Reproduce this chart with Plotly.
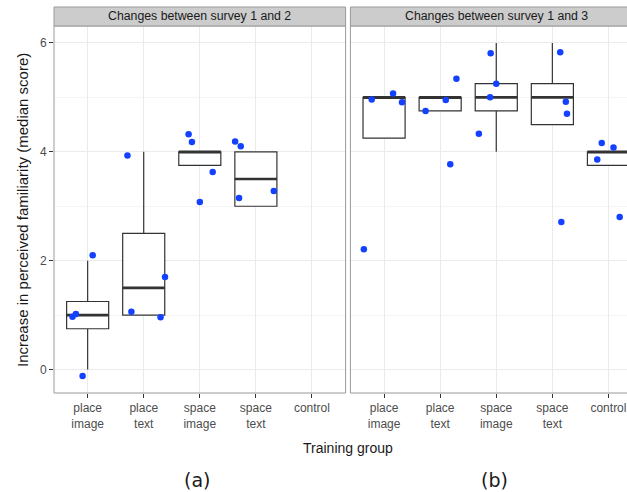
import plotly.graph_objects as go

# ---------------- data ----------------
categories = ["place<br>image", "place<br>text", "space<br>image", "space<br>text", "control"]
panel_titles = ["Changes between survey 1 and 2", "Changes between survey 1 and 3"]

# box statistics per panel (only groups that have data)
p1_box_idx = [0, 1, 2, 3]
p1_q1 = [0.75, 1.0, 3.75, 3.0]
p1_med = [1.0, 1.5, 4.0, 3.5]
p1_q3 = [1.25, 2.5, 4.0, 4.0]
p1_lo = [0.0, 1.0, 3.75, 3.0]
p1_hi = [2.0, 4.0, 4.0, 4.0]

p2_box_idx = [0, 1, 2, 3, 4]
p2_q1 = [4.25, 4.75, 4.75, 4.5, 3.75]
p2_med = [5.0, 5.0, 5.0, 5.0, 4.0]
p2_q3 = [5.0, 5.0, 5.25, 5.25, 4.0]
p2_lo = [4.25, 4.75, 4.0, 4.5, 3.75]
p2_hi = [5.0, 5.0, 6.0, 6.0, 4.0]

# jittered points: group index, x jitter, y value
p1_pt_grp = [0, 0, 0, 0, 1, 1, 1, 1, 2, 2, 2, 2, 3, 3, 3, 3]
p1_pt_jit = [-0.27, -0.21, 0.09, -0.09, -0.22, 0.30, 0.38, -0.29,
             -0.20, -0.14, 0.23, 0.00, -0.37, -0.27, 0.32, -0.30]
p1_pt_y = [0.97, 1.02, 2.10, -0.12, 1.06, 0.96, 1.70, 3.93,
           4.32, 4.18, 3.63, 3.08, 4.19, 4.10, 3.28, 3.15]

p2_pt_grp = [0, 0, 0, 0, 1, 1, 1, 1, 2, 2, 2, 2, 3, 3, 3, 3, 4, 4, 4, 4]
p2_pt_jit = [-0.22, 0.16, 0.32, -0.36, -0.26, 0.10, 0.29, 0.18,
             -0.10, 0.00, -0.11, -0.31, 0.14, 0.24, 0.26, 0.16,
             -0.12, 0.09, -0.20, 0.20]
p2_pt_y = [4.96, 5.07, 4.91, 2.21, 4.75, 4.95, 5.34, 3.77,
           5.81, 5.25, 5.00, 4.33, 5.83, 4.92, 4.70, 2.71,
           4.16, 4.08, 3.86, 2.80]

# ---------------- styling ----------------
W, H = 627, 492
ML, MR, MT, MB = 54, 0, 26, 99
plot_w = W - ML - MR
plot_h = H - MT - MB
unit_px = 56.1
p1_right = 345.6
p2_left = 350.4
d1 = [0, (p1_right - ML) / plot_w]
d2 = [(p2_left - ML) / plot_w, 1]
x1_range = [-0.6, 4.6]
x2_range = [-0.6, -0.6 + (W - p2_left) / unit_px]
y_range = [-0.43, 6.31]

BOX_W = 0.75
LINE_C = "#333333"
DOT_C = "#1440FF"
FONT = "Liberation Sans, Arial, sans-serif"

fig = go.Figure()

def add_panel(xa, ya, idx, q1, med, q3, lo, hi, grp, jit, yv):
    fig.add_trace(go.Box(
        x=idx, q1=q1, median=med, q3=q3, lowerfence=lo, upperfence=hi,
        width=BOX_W, whiskerwidth=0, boxpoints=False,
        fillcolor="white", line=dict(color=LINE_C, width=1.2),
        xaxis=xa, yaxis=ya, hoverinfo="skip", showlegend=False))
    mx, my = [], []
    for i, m in zip(idx, med):
        mx += [i - BOX_W / 2, i + BOX_W / 2, None]
        my += [m, m, None]
    fig.add_trace(go.Scatter(
        x=mx, y=my, mode="lines", line=dict(color=LINE_C, width=2.6),
        xaxis=xa, yaxis=ya, hoverinfo="skip", showlegend=False))
    fig.add_trace(go.Scatter(
        x=[g + j for g, j in zip(grp, jit)], y=yv, mode="markers",
        marker=dict(color=DOT_C, size=6.5, line=dict(width=0)),
        xaxis=xa, yaxis=ya, hoverinfo="skip", showlegend=False))

add_panel("x", "y", p1_box_idx, p1_q1, p1_med, p1_q3, p1_lo, p1_hi,
          p1_pt_grp, p1_pt_jit, p1_pt_y)
add_panel("x2", "y2", p2_box_idx, p2_q1, p2_med, p2_q3, p2_lo, p2_hi,
          p2_pt_grp, p2_pt_jit, p2_pt_y)

xcommon = dict(
    tickmode="array", tickvals=list(range(len(categories))), ticktext=categories,
    showgrid=True, gridcolor="#EBEBEB", gridwidth=1, zeroline=False,
    ticks="outside", ticklen=4, tickcolor=LINE_C, tickwidth=1,
    tickfont=dict(family=FONT, size=12, color="#4D4D4D"),
    showline=False, fixedrange=True,
)
ycommon = dict(
    range=y_range, tickmode="array", tickvals=[0, 2, 4, 6],
    showgrid=True, gridcolor="#EBEBEB", gridwidth=1, zeroline=False,
    minor=dict(tickmode="array", tickvals=[1, 3, 5], showgrid=True,
               gridcolor="#F5F5F5", gridwidth=1),
    showline=False, fixedrange=True,
)

fig.update_layout(
    width=W, height=H,
    margin=dict(l=ML, r=MR, t=MT, b=MB),
    paper_bgcolor="white", plot_bgcolor="white",
    font=dict(family=FONT, color="#1A1A1A"),
    xaxis=dict(domain=d1, range=x1_range, anchor="y", **xcommon),
    xaxis2=dict(domain=d2, range=x2_range, anchor="y2", **xcommon),
    yaxis=dict(domain=[0, 1], anchor="x", ticks="outside", ticklen=4,
               tickcolor=LINE_C, tickwidth=1,
               tickfont=dict(family=FONT, size=12, color="#4D4D4D"), **ycommon),
    yaxis2=dict(domain=[0, 1], anchor="x2", matches="y", showticklabels=False,
                ticks="", **ycommon),
)

strip_h = 19 / plot_h
shapes = []
annotations = []
for dom, title in zip([d1, d2], panel_titles):
    x1 = dom[1] if dom[1] < 1 else 1.03
    # panel border
    shapes.append(dict(type="rect", xref="paper", yref="paper",
                       x0=dom[0], x1=x1, y0=0, y1=1,
                       line=dict(color="#9A9A9A", width=1), layer="above"))
    # strip
    shapes.append(dict(type="rect", xref="paper", yref="paper",
                       x0=dom[0], x1=x1, y0=1, y1=1 + strip_h,
                       fillcolor="#CCCCCC", line=dict(color="#9A9A9A", width=1)))
    cx = ML + (dom[0] * plot_w + (dom[0] * plot_w + 5.2 * unit_px)) / 2
    annotations.append(dict(text=title, xref="paper", yref="paper",
                            x=(cx - ML) / plot_w, y=1 + strip_h / 2,
                            xanchor="center", yanchor="middle", showarrow=False,
                            font=dict(family=FONT, size=12.3, color="#1A1A1A")))

# axis titles and panel labels
annotations.append(dict(text="Training group", xref="paper", yref="paper",
                        x=(348 - ML) / plot_w, y=-(447.5 - (MT + plot_h)) / plot_h,
                        xanchor="center", yanchor="middle", showarrow=False,
                        font=dict(family=FONT, size=14, color="#1A1A1A")))
annotations.append(dict(text="Increase in perceived familiarity (median score)",
                        xref="paper", yref="paper", textangle=-90,
                        x=(22.5 - ML) / plot_w, y=(MT + plot_h - 210.5) / plot_h,
                        xanchor="center", yanchor="middle", showarrow=False,
                        font=dict(family=FONT, size=15, color="#1A1A1A")))
for lbl, px in [("(a)", 197), ("(b)", 494)]:
    annotations.append(dict(text=lbl, xref="paper", yref="paper",
                            x=(px - ML) / plot_w, y=-(480 - (MT + plot_h)) / plot_h,
                            xanchor="center", yanchor="middle", showarrow=False,
                            font=dict(family="DejaVu Sans, Verdana, sans-serif",
                                      size=19, color="#1A1A1A")))

fig.update_layout(shapes=shapes, annotations=annotations)
fig.write_html("out.html",
               config={"displayModeBar": False},
               post_script="document.body.style.margin='0px';"
                           "document.body.style.overflow='hidden';")
